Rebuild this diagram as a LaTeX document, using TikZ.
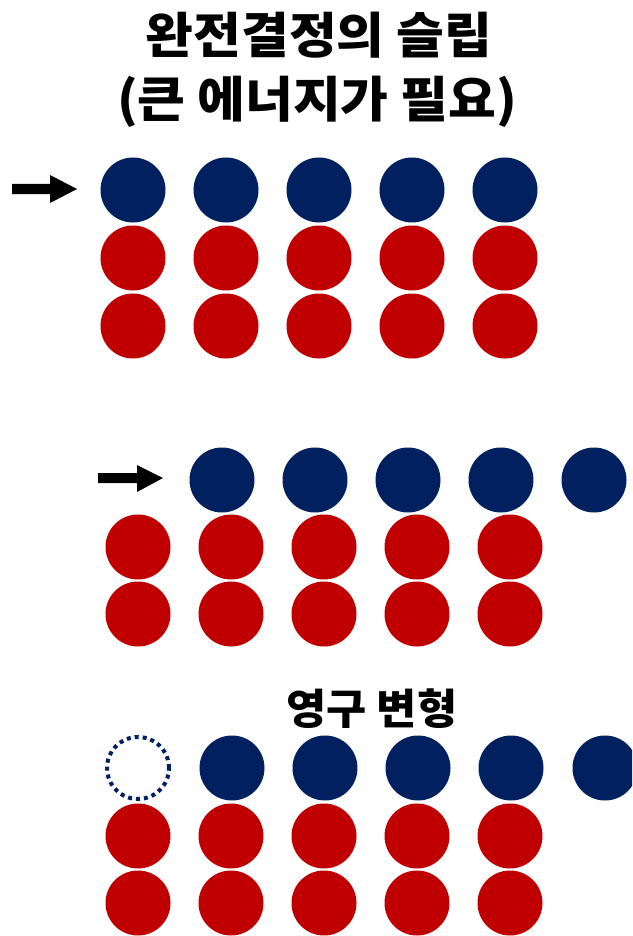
\documentclass[tikz,border=0pt]{standalone}
\usepackage{fontspec}
\newfontfamily\kr{Noto Sans CJK KR}
\definecolor{navy}{HTML}{002060}
\definecolor{dred}{HTML}{C00000}
\begin{document}
\begin{tikzpicture}[x=1pt,y=-1pt,
  bluedot/.style={circle,fill=navy,minimum size=65pt,inner sep=0pt},
  reddot/.style={circle,fill=dred,minimum size=65pt,inner sep=0pt},
  holedot/.style={circle,draw=navy,line width=4pt,dash pattern=on 4pt off 4pt,minimum size=62pt,inner sep=0pt},
  ttl/.style={font=\kr\bfseries\fontsize{49}{49}\selectfont,xscale=1.06,inner sep=0pt},
  lbl/.style={font=\kr\bfseries\fontsize{42}{42}\selectfont,xscale=1.04,inner sep=0pt}]
\useasboundingbox (0,0) rectangle (632,936);
\clip (0,0) rectangle (632,936);
% title
\node[ttl] (t1) at (319,35) {완전결정의 슬립};
\node[ttl] (t2) at (317,102) {(큰 에너지가 필요)};
% block 1
\foreach \i/\x in {1/133,2/226,3/319,4/412,5/505}{
  \node[bluedot] (a\i) at (\x,190) {};
  \node[reddot] (ar\i) at (\x,258) {};
  \node[reddot] (as\i) at (\x,326) {};
}
\fill (12,184) -- (50,184) -- (50,175) -- (77,189) -- (50,203) -- (50,194) -- (12,194) -- cycle;
% block 2
\foreach \i/\x in {1/222,2/315,3/408,4/501,5/594}{
  \node[bluedot] (b\i) at (\x,480) {};
}
\foreach \i/\x in {1/138,2/231,3/324,4/417,5/510}{
  \node[reddot] (br\i) at (\x,547) {};
  \node[reddot] (bs\i) at (\x,614) {};
}
\fill (98,473) -- (137,473) -- (137,465) -- (163,478) -- (137,492) -- (137,483) -- (98,483) -- cycle;
% block 3
\node[lbl] (l3) at (372,709) {영구 변형};
\node[holedot] (h) at (138,768) {};
\foreach \i/\x in {1/232,2/325,3/418,4/511,5/605}{
  \node[bluedot] (c\i) at (\x,768) {};
}
\foreach \i/\x in {1/138,2/231,3/324,4/417,5/510}{
  \node[reddot] (cr\i) at (\x,836) {};
  \node[reddot] (cs\i) at (\x,903) {};
}
\end{tikzpicture}
\end{document}
